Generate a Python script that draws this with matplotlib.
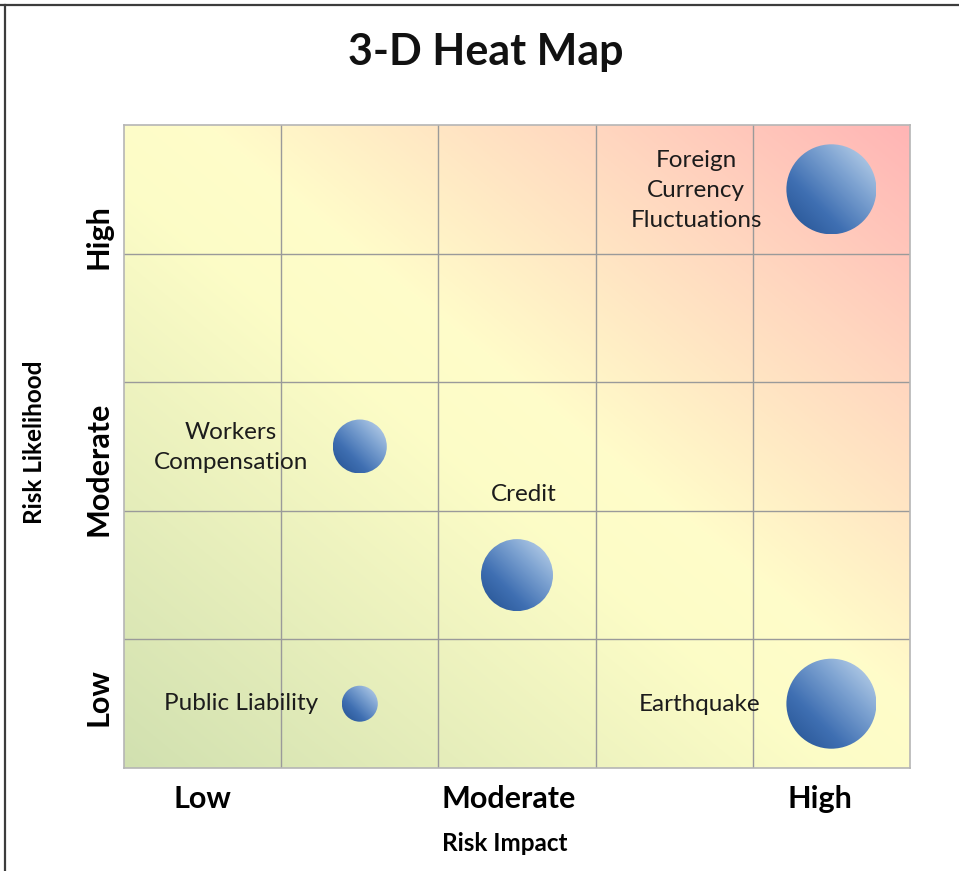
import numpy as np
import matplotlib
matplotlib.use("Agg")
import matplotlib.pyplot as plt
from matplotlib.patches import Ellipse
from matplotlib.colors import LinearSegmentedColormap
from matplotlib.lines import Line2D

plt.rcParams['font.family'] = ['Lato', 'DejaVu Sans']

# ---- data -------------------------------------------------------------
risks = ["Public Liability", "Workers\nCompensation", "Credit",
         "Earthquake", "Foreign\nCurrency\nFluctuations"]
impact = [1.5, 1.5, 2.5, 4.5, 4.5]          # column centre on the 0-5 impact scale
likelihood = [0.5, 2.5, 1.5, 0.5, 4.5]      # row centre on the 0-5 likelihood scale
severity = [2, 3, 4, 5, 5]                  # third dimension -> bubble size

level_labels = ["Low", "Moderate", "High"]

# ---- layout -----------------------------------------------------------
W, H, DPI = 959, 871, 100
fig = plt.figure(figsize=(W / DPI, H / DPI), dpi=DPI)
fig.patch.set_facecolor("white")

left, right, top, bottom = 124, 910, 125, 768
ax = fig.add_axes([left / W, 1 - bottom / H, (right - left) / W, (bottom - top) / H])
ax.set_xlim(0, 5)
ax.set_ylim(0, 5)

# background: green (low/low) -> yellow -> red (high/high)
bg_cmap = LinearSegmentedColormap.from_list(
    "risk",
    [(0.00, (0.82, 0.88, 0.69)),
     (0.45, (0.99, 0.99, 0.78)),
     (0.55, (1.00, 0.99, 0.79)),
     (0.80, (1.00, 0.84, 0.75)),
     (1.00, (1.00, 0.71, 0.71))])
gx, gy = np.meshgrid(np.linspace(0, 1, 400), np.linspace(0, 1, 400))
ax.imshow((gx + gy) / 2, cmap=bg_cmap, vmin=0, vmax=1, origin="lower",
          extent=[0, 5, 0, 5], aspect="auto", zorder=0, interpolation="bilinear")

# grid
for v in range(1, 5):
    ax.axvline(v, color="#9a9a9a", lw=1.0, zorder=1)
    ax.axhline(v, color="#9a9a9a", lw=1.0, zorder=1)
for s in ax.spines.values():
    s.set_color("#b5b5b5")
    s.set_linewidth(1.2)

# bubbles with a shaded sphere look
ball_cmap = LinearSegmentedColormap.from_list(
    "ball", ["#23508f", "#3f6fb2", "#7fa4d2", "#c6daee"])
pos = ax.get_position()
ppu_x = pos.width * W / 5
ppu_y = pos.height * H / 5
px_per_severity = 9.0
u, v = np.meshgrid(np.linspace(0, 1, 200), np.linspace(0, 1, 200))
shade = (u + v) / 2
for x, y, s in zip(impact, likelihood, severity):
    r = s * px_per_severity
    rx, ry = r / ppu_x, r / ppu_y
    ell = Ellipse((x, y), 2 * rx, 2 * ry, transform=ax.transData,
                  facecolor="none", edgecolor="none", zorder=3)
    ax.add_patch(ell)
    im = ax.imshow(shade, cmap=ball_cmap, origin="lower",
                   extent=[x - rx, x + rx, y - ry, y + ry],
                   aspect="auto", zorder=3, interpolation="bilinear")
    im.set_clip_path(ell)

# bubble labels (offset from each bubble)
label_offsets = [(-0.755, 0.0), (-0.82, -0.01), (0.04, 0.63),
                 (-0.84, -0.01), (-0.86, -0.01)]
for name, x, y, (dx, dy) in zip(risks, impact, likelihood, label_offsets):
    ax.text(x + dx, y + dy, name, ha="center", va="center", fontsize=17.5,
            color="#1c1c1c", linespacing=1.52, zorder=4)

ax.set_xlim(0, 5)
ax.set_ylim(0, 5)

# axis levels
ax.set_xticks([0.5, 2.45, 4.43])
ax.set_xticklabels(level_labels, fontsize=22, fontweight="bold")
ax.set_yticks([0.55, 2.33, 4.13])
ax.set_yticklabels(level_labels, fontsize=22, fontweight="bold",
                   rotation=90, va="center")
ax.tick_params(axis="x", length=0, pad=12)
ax.tick_params(axis="y", length=0, pad=8)

ax.set_xlabel("Risk Impact", fontsize=17.5, fontweight="bold", labelpad=14)
ax.set_ylabel("Risk Likelihood", fontsize=17.5, fontweight="bold", labelpad=28)
ax.xaxis.label.set_x(0.485)
ax.yaxis.label.set_y(0.507)

fig.text(486 / W, 1 - 52 / H, "3-D Heat Map", ha="center", va="center",
         fontsize=31, fontweight="bold", color="#111111")

# outer frame lines
fig.add_artist(Line2D([0, 1], [1 - 5 / H, 1 - 5 / H], transform=fig.transFigure,
                      color="#3c3c3c", lw=1.6))
fig.add_artist(Line2D([5 / W, 5 / W], [0, 1 - 5 / H], transform=fig.transFigure,
                      color="#3c3c3c", lw=1.6))

fig.savefig("out.png", dpi=DPI)
